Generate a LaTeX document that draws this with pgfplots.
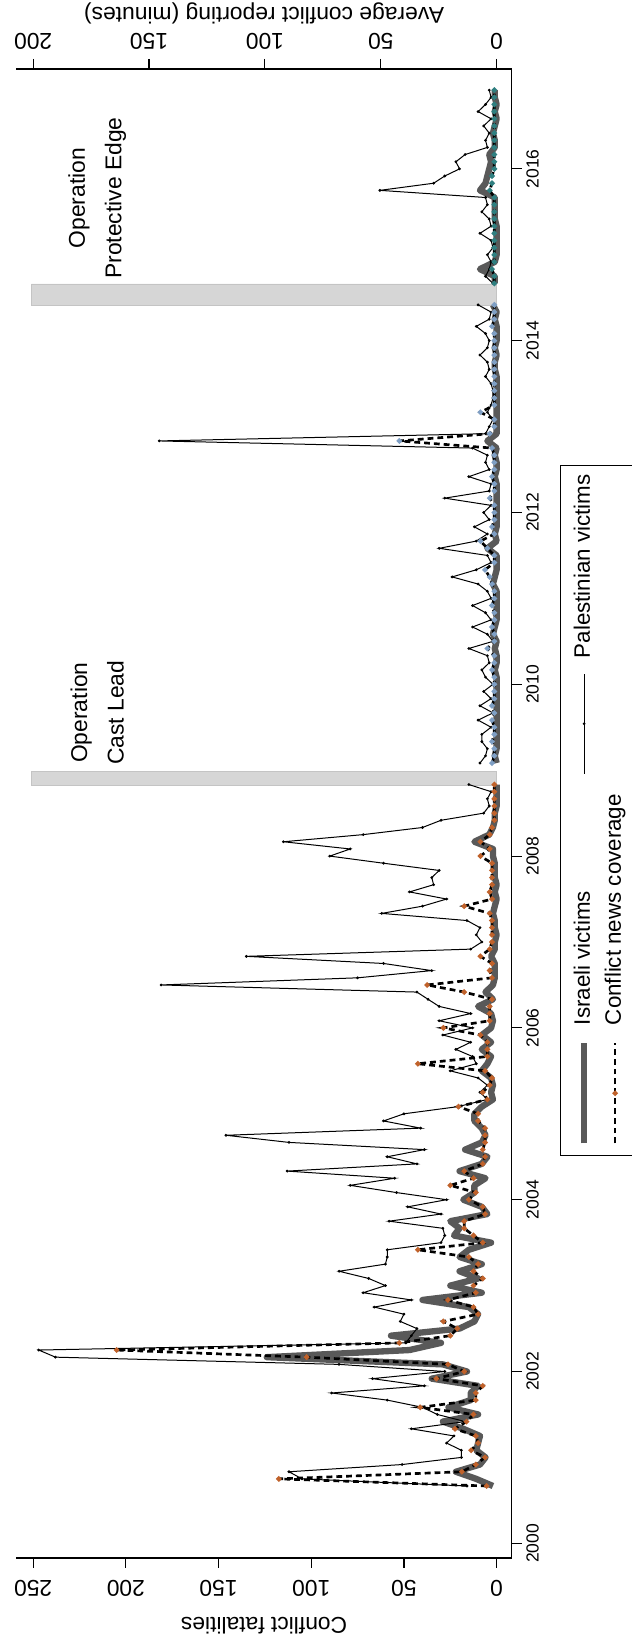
\documentclass[border=0pt]{standalone}
\usepackage{pgfplots}
\pgfplotsset{compat=1.18}
\usepackage{pgfplotstable}
\usepackage{fontspec}
\setmainfont{Liberation Sans}
\definecolor{isrgray}{HTML}{595959}
\definecolor{covorange}{HTML}{C0622B}
\definecolor{covblue}{HTML}{7F9FC4}
\definecolor{covteal}{HTML}{2F7F80}
\definecolor{barfill}{HTML}{D6D6D6}
\definecolor{barline}{HTML}{C4C4C4}

\pgfplotstableread{
x pal isr cov
2000.667 16 2 4.3
2000.750 105 11 94
2000.833 112 22 15
2000.917 51 9 9
2001.000 19 6 5
2001.083 19 11 11
2001.167 27 10 8
2001.250 23 9 9
2001.333 46 18 18
2001.417 17 29 13
2001.500 32 10 10
2001.583 40 26 33
2001.667 59 14 9
2001.750 89 14 9
2001.833 39 10 6
2001.917 67 35 26
2002.000 28 16 14
2002.083 85 29 21
2002.167 238 124 82
2002.250 247 47 164
2002.333 49 30 42
2002.417 46 57 20
2002.500 43 20 17
2002.583 52 12 23
2002.667 50 10 8
2002.750 66 15 10
2002.833 46 40 21
2002.917 72 8 9
2003.000 60 25 10
2003.083 69 10 6
2003.167 85 20 10
2003.250 60 8 8
2003.333 59 20 12
2003.417 59 15 34
2003.500 30 3 6
2003.583 28 23 10
2003.667 29 20 14
2003.750 58 25 14
2003.833 30 5 5
2003.917 48 8 6
2004.000 27 18 12
2004.083 54 12 9
2004.167 79 12 20
2004.250 55 6 10
2004.333 113 20 14
2004.417 43 8 6
2004.500 59 5 5
2004.583 39 17 6
2004.667 112 8 5
2004.750 146 6 5
2004.833 41 8 5
2004.917 61 12 8
2005.000 50 12 8
2005.083 21 8 16.5
2005.167 5 2 4
2005.250 9 3 6
2005.333 5 2 3
2005.417 10 3 2
2005.500 25 8 5
2005.583 11 5 34
2005.667 13 3 4
2005.750 22 8 4
2005.833 14 3 4
2005.917 29 8 7
2006.000 13 3 23
2006.083 31 2 3
2006.167 14 3 3
2006.250 31 10 3
2006.333 37 2 2
2006.417 43 6 14
2006.500 181 2 30
2006.583 75 1 2
2006.667 35 1 3
2006.750 61 1 2
2006.833 135 3 7
2006.917 14 1 3
2007.000 8 1 2
2007.083 11 0 2
2007.167 9 1 2
2007.250 16 1 2
2007.333 62 2 3
2007.417 40 1 14
2007.500 27 0 2
2007.583 47 1 3
2007.667 34 0 2
2007.750 35 1 2
2007.833 31 1 2
2007.917 61 1 2
2008.000 90 2 7
2008.083 79 2 3
2008.167 115 12 7
2008.250 72 4 3
2008.333 40 2 2
2008.417 30 1 1
2008.500 7 1 1
2008.583 4 0 1
2008.667 5 0 1
2008.750 3 0 1
2008.833 15 0 1
2008.917 nan nan nan
2009.000 nan nan nan
2009.083 9 0 2
2009.167 6 1 1
2009.250 5 0 1
2009.333 8 0 2
2009.417 8 0 1
2009.500 3 0 1
2009.583 10 0 2
2009.667 2 0 1
2009.750 9 0 2
2009.833 3 0 1
2009.917 7 0 1
2010.000 2 0 1
2010.083 6 0 1
2010.167 8 1 2
2010.250 4 0 1
2010.333 5 0 1
2010.417 15 1 4
2010.500 2 0 1
2010.583 5 2 1
2010.667 13 1 2
2010.750 3 0 1
2010.833 6 0 1
2010.917 13 0 2
2011.000 3 0 1
2011.083 5 0 1
2011.167 10 2 2
2011.250 24 1 3
2011.333 11 0 5
2011.417 3 0 1
2011.500 5 0 1
2011.583 31 5 4
2011.667 11 0 7
2011.750 5 1 1
2011.833 12 0 2
2011.917 4 0 1
2012.000 7 0 1
2012.083 3 0 1
2012.167 28 0 3
2012.250 4 0 1
2012.333 3 0 1
2012.417 15 1 2
2012.500 4 0 1
2012.583 6 0 1
2012.667 5 1 1
2012.750 13 0 2
2012.833 182 5 42
2012.917 6 0 3
2013.000 4 0 1
2013.083 2 0 1
2013.167 5 0 7
2013.250 3 0 1
2013.333 2 0 1
2013.417 2 0 1
2013.500 3 0 1
2013.583 6 0 1
2013.667 4 1 1
2013.750 5 1 1
2013.833 9 0 1
2013.917 5 1 1
2014.000 4 0 1
2014.083 6 0 1
2014.167 11 0 2
2014.250 4 1 1
2014.333 3 0 1
2014.417 10 2 1
2014.500 nan nan nan
2014.583 nan nan nan
2014.667 2 1 1
2014.750 6 1 1
2014.833 4 9 2
2014.917 3 1 1
2015.000 5 0 1
2015.083 2 0 1
2015.167 3 0 1
2015.250 9 0 1
2015.333 3 0 1
2015.417 4 1 1
2015.500 8 1 1
2015.583 5 1 1
2015.667 6 1 1
2015.750 63 9 3
2015.833 34 6 2
2015.917 28 5 2
2016.000 20 4 1
2016.083 22 3 1
2016.167 17 4 1
2016.250 5 1 1
2016.333 6 1 1
2016.417 4 2 1
2016.500 7 1 1
2016.583 3 0 1
2016.667 10 1 1
2016.750 6 0 1
2016.833 3 1 1
2016.917 4 1 1
}\datatable

\begin{document}
\rotatebox{90}{%
\begin{tikzpicture}
\begin{axis}[
  scale only axis, width=893.4pt, height=297.1pt,
  xmin=1999.829, xmax=2017.163, ymin=-8.1, ymax=259,
  axis x line*=bottom, axis y line*=left,
  axis line style={line width=0.7pt},
  tick align=outside, major tick length=6pt,
  tick style={black, line width=0.7pt},
  xtick={2000,2002,...,2016},
  ytick={0,50,...,250},
  /pgf/number format/assume math mode=true,
  /pgf/number format/1000 sep={},
  xticklabel style={font=\fontsize{10.5}{12}\selectfont, anchor=north, inner sep=0pt},
  xticklabel shift=2.7pt,
  yticklabel style={font=\fontsize{13.7}{16}\selectfont, rotate=90, anchor=south, inner sep=0pt},
  yticklabel shift=7pt,
  ylabel={Conflict fatalities},
  ylabel style={font=\fontsize{13.7}{16}\selectfont, at={(axis description cs:-0.0457,0.5)}, anchor=center},
  unbounded coords=jump,
]
\addplot[fill=barfill, draw=barline, line width=0.5pt] coordinates {(2008.82,0) (2008.82,251) (2008.99,251) (2008.99,0)} \closedcycle;
\addplot[fill=barfill, draw=barline, line width=0.5pt] coordinates {(2014.41,0) (2014.41,251) (2014.66,251) (2014.66,0)} \closedcycle;
\addplot[isrgray, line width=3.8pt, line join=round, no markers] table[x=x, y=isr] {\datatable};
\addplot[black, line width=0.6pt, mark=*, mark size=0.5pt] table[x=x, y=pal] {\datatable};
\node[align=center, font=\fontsize{13.7}{21.9}\selectfont] at (axis cs:2009.67,215.5) {Operation\\Cast Lead};
\node[align=center, font=\fontsize{13.7}{21.9}\selectfont] at (axis cs:2015.66,215.5) {Operation\\Protective Edge};
\end{axis}
\begin{axis}[
  scale only axis, width=893.4pt, height=297.1pt,
  xmin=1999.829, xmax=2017.163, ymin=-6.48, ymax=207.2,
  axis x line=none, axis y line*=right,
  axis line style={line width=0.7pt},
  tick align=outside, major tick length=6pt,
  tick style={black, line width=0.7pt},
  ytick={0,50,...,200},
  /pgf/number format/assume math mode=true,
  yticklabel style={font=\fontsize{13.7}{16}\selectfont, rotate=90, anchor=north, inner sep=0pt},
  yticklabel shift=5.5pt,
  ylabel={Average conflict reporting (minutes)},
  ylabel style={font=\fontsize{13.7}{16}\selectfont, at={(axis description cs:1.0376,0.5)}, anchor=center},
  unbounded coords=jump,
  legend columns=2,
  legend cell align=left,
  legend image code/.code={\draw[#1] plot coordinates {(0pt,0pt) (30pt,0pt) (60pt,0pt)};},
  legend style={at={(axis description cs:0.27,-0.0975)}, anchor=north west, draw=black, line width=0.6pt, fill=white,
    font=\fontsize{13.4}{16}\selectfont, inner xsep=5.4pt, inner ysep=8pt, row sep=6.2pt,
    nodes={inner sep=0pt, text height=9.6pt, text depth=2.8pt},
    /tikz/every odd column/.style={column sep=9pt},
    /tikz/every even column/.style={column sep=12pt}},
]
\addplot[black, line width=1.6pt, dash pattern=on 3.5pt off 2.4pt, mark=*, mark size=0.7pt,
  mark options={solid, fill=covorange, draw=covorange}, restrict x to domain=2000:2008.9, forget plot]
  table[x=x, y=cov] {\datatable};
\addplot[black, line width=1.6pt, dash pattern=on 3.5pt off 2.4pt, mark=*, mark size=0.7pt,
  mark options={solid, fill=covblue, draw=covblue}, restrict x to domain=2009:2014.45, forget plot]
  table[x=x, y=cov] {\datatable};
\addplot[black, line width=1.6pt, dash pattern=on 3.5pt off 2.4pt, mark=*, mark size=0.7pt,
  mark options={solid, fill=covteal, draw=covteal}, restrict x to domain=2014.6:2017, forget plot]
  table[x=x, y=cov] {\datatable};
\addlegendimage{isrgray, line width=3.8pt, no markers}
\addlegendentry{Israeli victims}
\addlegendimage{black, line width=0.6pt, mark=*, mark size=0.5pt, mark repeat=2, mark phase=2}
\addlegendentry{Palestinian victims}
\addlegendimage{black, line width=1.6pt, dash pattern=on 3.5pt off 2.4pt, mark=*, mark size=0.7pt, mark repeat=2, mark phase=2, mark options={solid, fill=covorange, draw=covorange}}
\addlegendentry{Conflict news coverage}
\end{axis}
\pgfresetboundingbox
\path (-51pt,-72.18pt) rectangle (934.8pt,307pt);
\end{tikzpicture}%
}
\end{document}
